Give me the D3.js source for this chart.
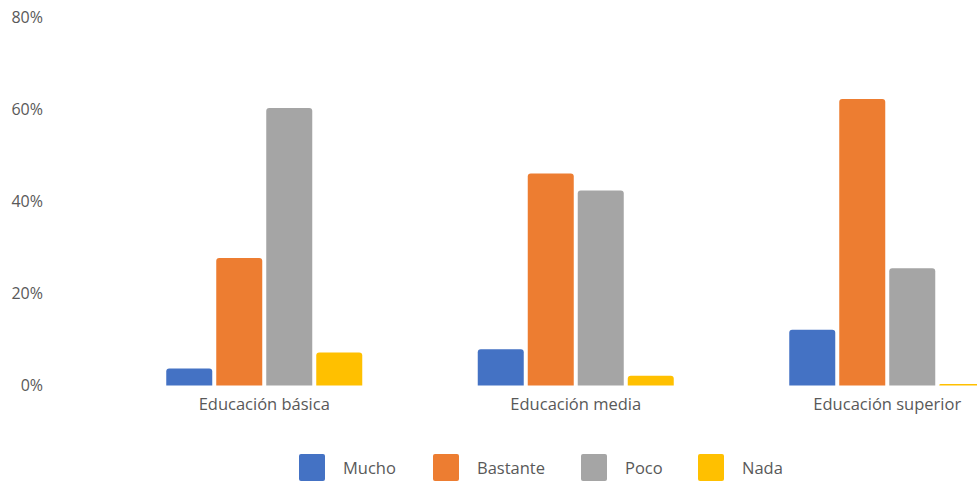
<!DOCTYPE html>
<html>
<head>
<meta charset="utf-8">
<script src="https://cdn.jsdelivr.net/npm/d3@7"></script>
<style>
  html, body { margin: 0; padding: 0; background: #fff; }
  svg { display: block; font-family: "Open Sans", "Noto Sans", sans-serif; }
</style>
</head>
<body>
<svg id="chart" width="977" height="482"></svg>
<script>
// Education levels (x groups)
const categories = ["Educación básica", "Educación media", "Educación superior"];
// Response series
const seriesNames = ["Mucho", "Bastante", "Poco", "Nada"];
const seriesColors = ["#4472C4", "#ED7D31", "#A5A5A5", "#FFC000"];
// Percentages per series, one value per education level
const mucho    = [3.7, 7.9, 12.1];
const bastante = [27.7, 46.1, 62.3];
const poco     = [60.3, 42.4, 25.5];
const nada     = [7.2, 2.1, 0.3];
const yTicks = [0, 20, 40, 60, 80];

const seriesValues = [mucho, bastante, poco, nada];

const svg = d3.select("#chart");

const y = d3.scaleLinear().domain([0, 80]).range([385.5, 17.5]);
const x0 = d3.scaleBand().domain(categories).range([108.5, 1043]).padding(0);
const groupWidth = 196;
const x1 = d3.scaleBand().domain(seriesNames).range([0, groupWidth]).paddingInner(0.08).paddingOuter(0);

// y axis labels only (no line, no ticks)
const yAxis = d3.axisLeft(y).tickValues(yTicks).tickFormat(d => d + "%").tickSize(0).tickPadding(0);
const yg = svg.append("g").attr("transform", "translate(43,0)").call(yAxis);
yg.select(".domain").remove();
yg.selectAll("text").attr("fill", "#595959").attr("font-size", 16)
  .attr("font-family", "'Open Sans', sans-serif");

// top-rounded bar path
function barPath(x, yTop, w, yBase, r) {
  const h = yBase - yTop;
  const rr = Math.min(r, h, w / 2);
  return `M${x},${yBase}V${yTop + rr}Q${x},${yTop} ${x + rr},${yTop}H${x + w - rr}Q${x + w},${yTop} ${x + w},${yTop + rr}V${yBase}Z`;
}

const groups = svg.append("g").selectAll("g")
  .data(categories)
  .join("g")
  .attr("transform", d => `translate(${x0(d) + (x0.bandwidth() - groupWidth) / 2},0)`);

groups.selectAll("path")
  .data((d, i) => seriesNames.map((s, k) => ({ s, k, v: seriesValues[k][i] })))
  .join("path")
  .attr("d", d => barPath(x1(d.s), y(d.v), x1.bandwidth(), y(0), 3))
  .attr("fill", d => seriesColors[d.k]);

// category labels
const xAxis = d3.axisBottom(x0).tickSize(0).tickPadding(0);
const xg = svg.append("g").attr("transform", "translate(0,398)").call(xAxis);
xg.select(".domain").remove();
xg.selectAll("text").attr("fill", "#595959").attr("font-size", 16.5)
  .attr("font-family", "'Open Sans', sans-serif").attr("dy", "0.71em");

// legend
const legendX = [299, 433, 581, 698];
const legend = svg.append("g").selectAll("g")
  .data(seriesNames)
  .join("g")
  .attr("transform", (d, i) => `translate(${legendX[i]},454)`);
legend.append("rect")
  .attr("width", 26).attr("height", 27).attr("rx", 2)
  .attr("fill", (d, i) => seriesColors[i]);
legend.append("text")
  .attr("x", 44).attr("y", 14).attr("dy", "0.35em")
  .attr("fill", "#595959").attr("font-size", 16.5)
  .text(d => d);
</script>
</body>
</html>
